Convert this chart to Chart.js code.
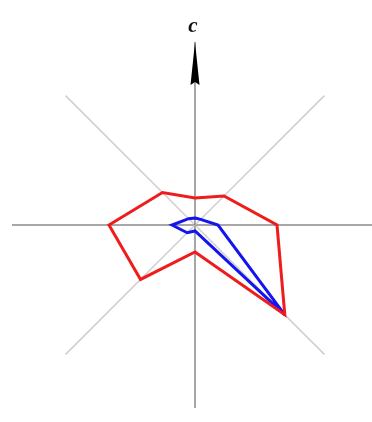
<!DOCTYPE html>
<html>
<head>
<meta charset="utf-8">
<script src="https://cdn.jsdelivr.net/npm/chart.js@4/dist/chart.umd.min.js"></script>
<style>
  html, body { margin: 0; padding: 0; background: #fff; overflow: hidden; }
  #clip { width: 372px; height: 422px; overflow: hidden; position: relative; }
  #wrap { width: 390px; height: 422px; position: absolute; left: 0; top: 0; }
</style>
</head>
<body>
<div id="clip"><div id="wrap"><canvas id="c"></canvas></div></div>
<script>
// Axes, clockwise from the top (the "c" axis)
const axes = ['c', 'NE', 'E', 'SE', 'S', 'SW', 'W', 'NW'];
const axisLabel = 'c';
// Series values (radial distance, same units as the scale)
const redValues  = [27, 41, 82, 127, 27, 77, 86, 46];
const blueValues = [7, 8, 23, 127, 6, 11, 23, 9];
const scaleMax = 183;

const arrowPlugin = {
  id: 'axisArrow',
  afterDatasetsDraw(chart) {
    const s = chart.scales.r;
    const ctx = chart.ctx;
    const tip = s.getPointPosition(0, scaleMax);
    const base = s.getPointPosition(0, scaleMax - 43);
    ctx.save();
    ctx.fillStyle = '#000';
    ctx.beginPath();
    ctx.moveTo(tip.x, tip.y);
    ctx.lineTo(base.x + 4.5, base.y);
    ctx.lineTo(base.x, base.y - 3);
    ctx.lineTo(base.x - 4.5, base.y);
    ctx.closePath();
    ctx.fill();
    ctx.font = 'italic bold 21px "Liberation Serif", "DejaVu Serif", serif';
    ctx.textAlign = 'center';
    ctx.textBaseline = 'alphabetic';
    ctx.fillStyle = '#111';
    ctx.fillText(axisLabel, tip.x - 2, tip.y - 10);
    ctx.restore();
  }
};

new Chart(document.getElementById('c'), {
  type: 'radar',
  data: {
    labels: axes,
    datasets: [
      { data: redValues, borderColor: '#ee1c1c', borderWidth: 3, fill: false,
        pointRadius: 0, pointHoverRadius: 0, tension: 0, borderJoinStyle: 'miter' },
      { data: blueValues, borderColor: '#1414ee', borderWidth: 3, fill: false,
        pointRadius: 0, pointHoverRadius: 0, tension: 0, borderJoinStyle: 'miter' }
    ]
  },
  options: {
    responsive: true,
    maintainAspectRatio: false,
    animation: false,
    events: [],
    layout: { padding: { left: 12, right: 12, top: 42, bottom: 14 } },
    plugins: { legend: { display: false }, tooltip: { enabled: false } },
    scales: {
      r: {
        min: 0,
        max: scaleMax,
        startAngle: 0,
        ticks: { display: false },
        grid: { display: false },
        pointLabels: { display: false },
        angleLines: {
          display: true,
          color: (ctx) => (ctx.index % 2 === 0 ? '#8a8a8a' : '#cfcfcf'),
          lineWidth: 1.5
        }
      }
    }
  },
  plugins: [arrowPlugin]
});
</script>
</body>
</html>
